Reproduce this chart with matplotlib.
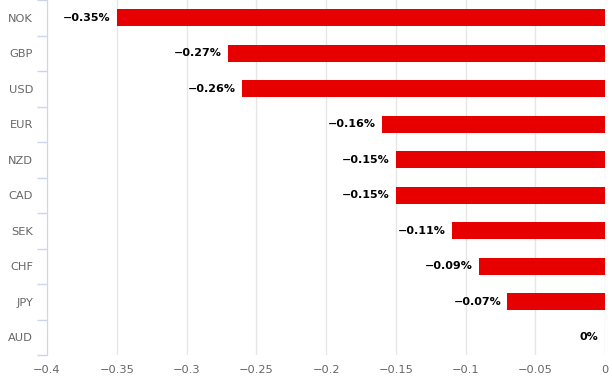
import numpy as np
import matplotlib.pyplot as plt

currencies = ["NOK", "GBP", "USD", "EUR", "NZD", "CAD", "SEK", "CHF", "JPY", "AUD"]
changes = [-0.35, -0.27, -0.26, -0.16, -0.15, -0.15, -0.11, -0.09, -0.07, 0.0]
labels = ["\u22120.35%", "\u22120.27%", "\u22120.26%", "\u22120.16%", "\u22120.15%",
          "\u22120.15%", "\u22120.11%", "\u22120.09%", "\u22120.07%", "0%"]
xticks = [-0.4, -0.35, -0.3, -0.25, -0.2, -0.15, -0.1, -0.05, 0]
xticklabels = ["\u22120.4", "\u22120.35", "\u22120.3", "\u22120.25", "\u22120.2",
               "\u22120.15", "\u22120.1", "\u22120.05", "0"]

plt.rcParams['font.family'] = ['DejaVu Sans']

fig = plt.figure(figsize=(6.12, 3.81), dpi=100)
ax = fig.add_axes([47/612, 1-355/381, 558/612, 355/381])

y = np.arange(len(currencies))
ax.barh(y, changes, height=0.48, color="#e60000", zorder=3)

for yi, v, lab in zip(y, changes, labels):
    ax.annotate(lab, (v, yi), xytext=(-4.5, 0), textcoords="offset points",
                ha="right", va="center", fontsize=8, fontweight="bold", color="#000000")

ax.set_xlim(-0.4, 0)
ax.set_ylim(len(currencies) - 0.5, -0.5)
ax.set_xticks(xticks)
ax.set_xticklabels(xticklabels)
ax.set_yticks(y)
ax.set_yticklabels(currencies)
ax.tick_params(axis="y", length=0, pad=10, labelsize=8.2, labelcolor="#666666")
ax.tick_params(axis="x", length=0, pad=7, labelsize=8.2, labelcolor="#666666")

# category boundary ticks
ax.set_yticks(np.arange(len(currencies) + 1) - 0.5, minor=True)
ax.tick_params(axis="y", which="minor", length=7.2, color="#ccd6eb", width=1)

ax.grid(axis="x", color="#e6e6e6", linewidth=1, zorder=0)
for s in ["top", "right", "bottom"]:
    ax.spines[s].set_visible(False)
ax.spines["left"].set_color("#ccd6eb")
ax.spines["left"].set_zorder(4)

fig.savefig("out.png", dpi=100)
